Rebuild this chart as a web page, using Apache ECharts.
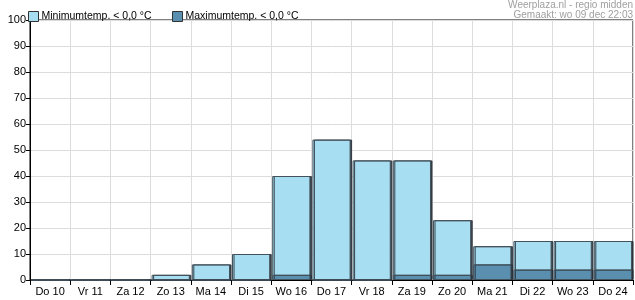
<!DOCTYPE html>
<html><head><meta charset="utf-8">
<script src="https://cdn.jsdelivr.net/npm/echarts@6/dist/echarts.min.js"></script>
<style>html,body{margin:0;padding:0;background:#fff}#c{width:635px;height:300px}</style>
</head><body><div id="c"></div>
<script>
const categories = ['Do 10','Vr 11','Za 12','Zo 13','Ma 14','Di 15','Wo 16','Do 17','Vr 18','Za 19','Zo 20','Ma 21','Di 22','Wo 23','Do 24'];
const minTemp = [0,0,0,2,6,10,40,54,46,46,23,13,15,15,15];
const maxTemp = [0,0,0,0,0,0,2,0,0,2,2,6,4,4,4];
const yTicks = [0,10,20,30,40,50,60,70,80,90,100];
const seriesNames = ['Minimumtemp. < 0,0 °C','Maximumtemp. < 0,0 °C'];

const chart = echarts.init(document.getElementById('c'), null, {renderer:'canvas'});
const barStyle = (c) => ({color:c, borderColor:'#44525c', borderWidth:1, shadowColor:'rgba(40,50,60,0.9)', shadowOffsetX:1.5, shadowOffsetY:0, shadowBlur:0});
const legendCommon = {top:6, itemWidth:10, itemHeight:10, icon:'rect',
    textStyle:{fontSize:10.5, color:'#000', padding:[0,0,0,-2]},
    itemStyle:{borderColor:'#333', borderWidth:1}};
chart.setOption({
  animation:false,
  textStyle:{fontFamily:'Liberation Sans, Arial, sans-serif'},
  grid:{left:30, right:2, top:20, bottom:20, show:true, borderColor:'#000', borderWidth:1, backgroundColor:'transparent'},
  legend:[
    Object.assign({left:23, data:[seriesNames[0]]}, legendCommon),
    Object.assign({left:167, data:[seriesNames[1]]}, legendCommon)
  ],
  graphic:[
    {type:'text', right:2, top:0, style:{text:'Weerplaza.nl - regio midden', fill:'#a0a0a0', font:'10px Liberation Sans, Arial', textAlign:'right'}},
    {type:'text', right:2, top:10, style:{text:'Gemaakt: wo 09 dec 22:03', fill:'#a0a0a0', font:'10px Liberation Sans, Arial', textAlign:'right'}}
  ],
  xAxis:{type:'category', data:categories,
    axisLine:{show:true, lineStyle:{color:'#000', width:1}},
    axisTick:{show:true, alignWithLabel:false, interval:0, length:5, lineStyle:{color:'#000'}},
    axisLabel:{color:'#000', fontSize:11, margin:6, interval:0},
    splitLine:{show:true, interval:0, lineStyle:{color:'#dcdcdc'}}},
  yAxis:{type:'value', min:yTicks[0], max:yTicks[yTicks.length-1], interval:10,
    axisLine:{show:true, lineStyle:{color:'#000'}},
    axisTick:{show:true, length:4, lineStyle:{color:'#000'}},
    axisLabel:{color:'#000', fontSize:11, margin:4},
    splitLine:{show:true, lineStyle:{color:'#dcdcdc'}}},
  series:[
    {name:seriesNames[0], type:'bar', data:minTemp, barCategoryGap:'5%', barGap:'-100%', itemStyle:barStyle('#a8def1'), z:2},
    {name:seriesNames[1], type:'bar', data:maxTemp, barCategoryGap:'5%', barGap:'-100%', itemStyle:barStyle('#5b8fb0'), z:3}
  ]
});
</script></body></html>
